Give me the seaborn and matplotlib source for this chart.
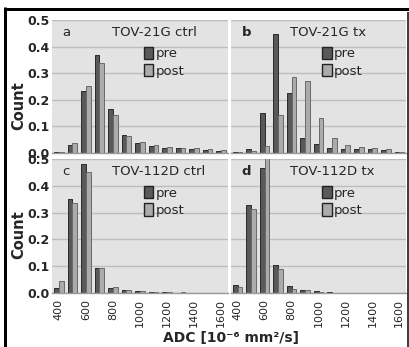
import numpy as np
import pandas as pd
import matplotlib
matplotlib.use("Agg")
import matplotlib.pyplot as plt
import seaborn as sns
from matplotlib.patches import Patch
from matplotlib.lines import Line2D

# ---- data ----
bins = [400, 500, 600, 700, 800, 900, 1000, 1100, 1200, 1300, 1400, 1500, 1600]
tick_labels = ["400", "600", "800", "1000", "1200", "1400", "1600"]
phases = ["pre", "post"]

a_pre = [0.003, 0.030, 0.233, 0.368, 0.167, 0.066, 0.038, 0.026, 0.017, 0.017, 0.016, 0.011, 0.008]
a_post = [0.003, 0.037, 0.250, 0.340, 0.143, 0.064, 0.040, 0.029, 0.024, 0.019, 0.017, 0.015, 0.011]
b_pre = [0.002, 0.014, 0.152, 0.448, 0.226, 0.058, 0.032, 0.019, 0.016, 0.016, 0.014, 0.010, 0.003]
b_post = [0.002, 0.006, 0.025, 0.144, 0.286, 0.272, 0.133, 0.055, 0.031, 0.024, 0.020, 0.014, 0.003]
c_pre = [0.020, 0.352, 0.480, 0.093, 0.020, 0.012, 0.008, 0.004, 0.002, 0.001, 0.001, 0.001, 0.001]
c_post = [0.045, 0.337, 0.452, 0.095, 0.024, 0.012, 0.008, 0.005, 0.003, 0.002, 0.001, 0.001, 0.001]
d_pre = [0.028, 0.330, 0.467, 0.103, 0.025, 0.010, 0.006, 0.002, 0.001, 0.001, 0.001, 0.001, 0.001]
d_post = [0.021, 0.313, 0.510, 0.091, 0.015, 0.010, 0.003, 0.001, 0.001, 0.001, 0.001, 0.001, 0.001]

panel_letters = ["a", "b", "c", "d"]
panel_titles = ["TOV-21G ctrl", "TOV-21G tx", "TOV-112D ctrl", "TOV-112D tx"]
panel_data = [(a_pre, a_post), (b_pre, b_post), (c_pre, c_post), (d_pre, d_post)]

sns.set_style("white")
plt.rcParams["font.family"] = ["DejaVu Sans"]

W, H = 409, 347
fig = plt.figure(figsize=(W / 100, H / 100), dpi=100)

def frac(x0, y0, x1, y1):
    return [x0 / W, 1 - y1 / H, (x1 - x0) / W, (y1 - y0) / H]

rects = [frac(52, 20, 228, 153), frac(231, 20, 406, 153),
         frac(52, 159, 228, 293), frac(231, 159, 406, 293)]

pre_fill, post_fill = "#595959", "#ababab"
pre_edge, post_edge = "#2a2a2a", "#6a6a6a"
order = [str(b) for b in bins]

for i, (rect, (pre, post)) in enumerate(zip(rects, panel_data)):
    ax = fig.add_axes(rect)
    df = pd.DataFrame({
        "adc": order * 2,
        "count": list(pre) + list(post),
        "phase": ["pre"] * len(bins) + ["post"] * len(bins),
    })
    sns.barplot(data=df, x="adc", y="count", hue="phase", order=order,
                hue_order=phases, palette=[pre_fill, post_fill], width=0.7,
                dodge=True, legend=False, ax=ax, linewidth=0.7)
    for bar in ax.containers[0]:
        bar.set_edgecolor(pre_edge)
    for bar in ax.containers[1]:
        bar.set_edgecolor(post_edge)

    ax.set_facecolor("#e3e3e3")
    ax.set_ylim(0, 0.5)
    ax.set_xlim(-0.5, len(bins) - 0.5)
    ax.set_yticks([0, 0.1, 0.2, 0.3, 0.4, 0.5])
    ax.yaxis.grid(True, color="#bdbdbd", lw=1.0)
    ax.xaxis.grid(False)
    ax.set_axisbelow(True)
    for s in ["top", "left", "right"]:
        ax.spines[s].set_visible(False)
    ax.spines["bottom"].set_color("#9a9a9a")
    ax.spines["bottom"].set_linewidth(1.0)
    ax.set_xlabel("")
    ax.set_ylabel("")

    ax.set_xticks(list(range(0, len(bins), 2)))
    ax.set_xticks(np.arange(-0.5, len(bins), 1.0), minor=True)
    ax.tick_params(axis="x", which="major", length=0, pad=4)
    ax.tick_params(axis="x", which="minor", length=3, color="#9a9a9a", width=0.8)
    if i >= 2:
        ax.set_xticklabels(tick_labels, rotation=90, fontsize=8, va="top")
    else:
        ax.set_xticklabels([])
    ax.tick_params(axis="y", length=0, pad=2)
    if i % 2 == 0:
        ax.set_yticklabels(["0.0", "0.1", "0.2", "0.3", "0.4", "0.5"],
                           fontsize=9, fontweight="bold")
    else:
        ax.set_yticklabels([])

    ax.text(0.06, 0.905, panel_letters[i], transform=ax.transAxes, ha="left",
            va="center", fontsize=9.5,
            fontweight="bold" if i % 2 == 1 else "normal")
    ax.text(0.34, 0.905, panel_titles[i], transform=ax.transAxes, ha="left",
            va="center", fontsize=9.5)

    handles = [Patch(facecolor=pre_fill, edgecolor="#222222", lw=1.0),
               Patch(facecolor=post_fill, edgecolor="#222222", lw=1.0)]
    ax.legend(handles, phases, loc="upper left", bbox_to_anchor=(0.52, 0.80),
              frameon=False, fontsize=9.5, handlelength=0.75, handleheight=1.1,
              handletextpad=0.15, labelspacing=0.25, borderpad=0, borderaxespad=0)

fig.text(18.5 / W, 1 - 106 / H, "Count", rotation=90, ha="center", va="center",
         fontsize=10.5, fontweight="bold")
fig.text(18.5 / W, 1 - 235 / H, "Count", rotation=90, ha="center", va="center",
         fontsize=10.5, fontweight="bold")
fig.text(231 / W, 1 - 338 / H, "ADC [10⁻⁶ mm²/s]", ha="center", va="center",
         fontsize=10, fontweight="bold")

# outer frame
def px_line(x0, y0, x1, y1, lw_px):
    fig.add_artist(Line2D([x0 / W, x1 / W], [1 - y0 / H, 1 - y1 / H],
                          transform=fig.transFigure, color="black",
                          lw=lw_px * 0.72, solid_capstyle="butt"))

px_line(3.5, 8.5, 409, 8.5, 3)
px_line(5, 7, 5, 347, 3)
px_line(408, 12, 408, 347, 1.5)

fig.savefig("out.png", dpi=100)
